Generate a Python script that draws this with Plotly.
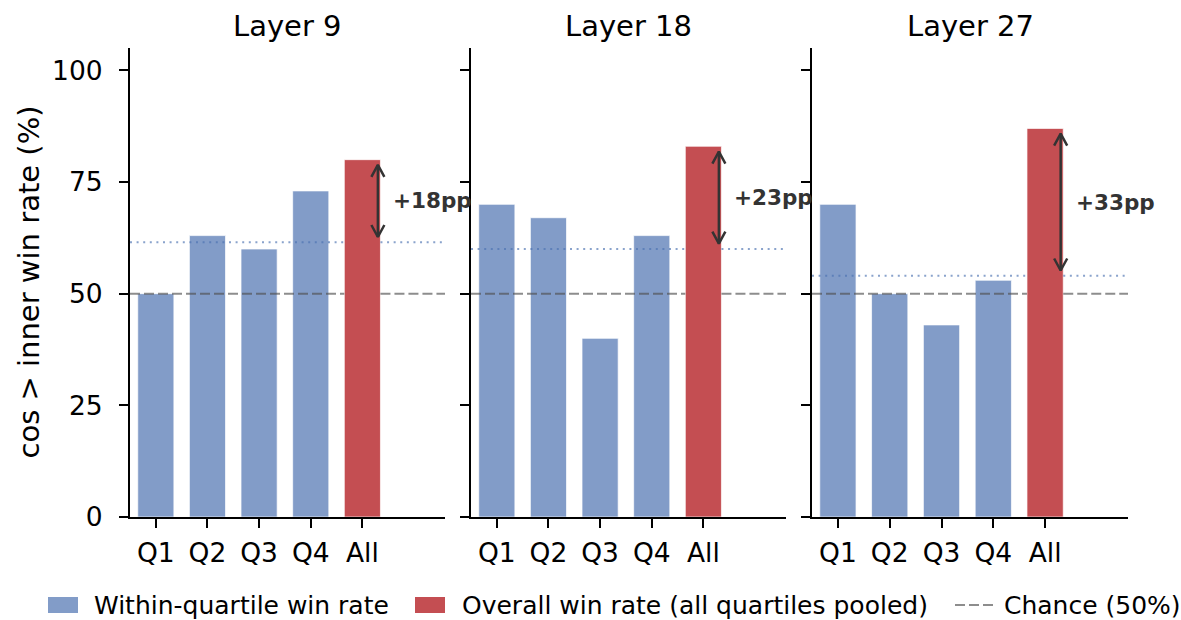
import plotly.graph_objects as go
from plotly.subplots import make_subplots

# ---- data -------------------------------------------------------------
layers = ["Layer 9", "Layer 18", "Layer 27"]
categories = ["Q1", "Q2", "Q3", "Q4", "All"]
within_l9 = [50, 63, 60, 73]
within_l18 = [70, 67, 40, 63]
within_l27 = [70, 50, 43, 53]
overall = [80, 83, 87]
chance = 50
y_ticks = [0, 25, 50, 75, 100]

within_all = [within_l9, within_l18, within_l27]

# ---- style -------------------------------------------------------------
FONT = "DejaVu Sans"
BLUE = "#829cc8"
RED = "#C44E52"
MEAN_LINE = "rgba(76,114,176,0.65)"
CHANCE_LINE = "rgba(80,80,80,0.65)"
ARROW = "#333333"
BAR_W = 0.7
X_RANGE = [-0.5, 5.6]
Y_RANGE = [0, 105]

W, H = 1181, 620
ML, MR, MT, MB = 130, 53, 48, 103
PW, PH = W - ML - MR, H - MT - MB
PX_X = PW * (315 / 998) / (X_RANGE[1] - X_RANGE[0])  # px per x unit
PX_Y = PH / (Y_RANGE[1] - Y_RANGE[0])                 # px per y unit

fig = make_subplots(rows=1, cols=3)

domains = [[0, 315 / 998], [341 / 998, 656 / 998], [682 / 998, 1.0]]

annotations = []
all_x = len(categories) - 1
gap_lo, gap_hi = all_x - BAR_W / 2, all_x + BAR_W / 2

for i, (name, within, tot) in enumerate(zip(layers, within_all, overall)):
    col = i + 1
    mean_rate = sum(within) / len(within)
    # within-quartile bars
    fig.add_trace(go.Bar(x=list(range(len(within))), y=within, width=BAR_W,
                         marker=dict(color=BLUE, line=dict(color="rgba(255,255,255,0.7)", width=1)),
                         showlegend=False, hoverinfo="skip"), row=1, col=col)
    # pooled bar
    fig.add_trace(go.Bar(x=[all_x], y=[tot], width=BAR_W,
                         marker=dict(color=RED, line=dict(color="rgba(255,255,255,0.7)", width=1)),
                         showlegend=False, hoverinfo="skip"), row=1, col=col)
    # reference lines, interrupted behind the pooled bar
    for val, color, dash in [(chance, CHANCE_LINE, "10px,4px"), (mean_rate, MEAN_LINE, "2px,4.6px")]:
        fig.add_trace(go.Scatter(x=[X_RANGE[0], gap_lo, None, gap_hi, X_RANGE[1]],
                                 y=[val, val, None, val, val], mode="lines",
                                 line=dict(color=color, width=2, dash=dash),
                                 showlegend=False, hoverinfo="skip"), row=1, col=col)
    # double-headed arrow from mean to pooled rate
    ax = all_x + 0.3
    shrink = 5.3 / PX_Y
    lo, hi = mean_rate + shrink, tot - shrink
    dx, dy = 6.5 / PX_X, 12 / PX_Y
    fig.add_trace(go.Scatter(
        x=[ax, ax, None, ax - dx, ax, ax + dx, None, ax - dx, ax, ax + dx],
        y=[lo, hi, None, hi - dy, hi, hi - dy, None, lo + dy, lo, lo + dy],
        mode="lines", line=dict(color=ARROW, width=2.5),
        showlegend=False, hoverinfo="skip"), row=1, col=col)
    delta = tot - mean_rate
    annotations.append(dict(x=all_x + 0.55, y=(mean_rate + tot) / 2,
                            xref=f"x{col if col > 1 else ''}", yref=f"y{col if col > 1 else ''}",
                            text=f"<b>{delta:+.0f}pp</b>", showarrow=False,
                            xanchor="left", yanchor="middle",
                            font=dict(family=FONT, size=21.5, color=ARROW)))
    # panel title
    d = domains[i]
    annotations.append(dict(x=(d[0] + d[1]) / 2, y=(H - MB - 26) / PH, xref="paper", yref="paper",
                            text=name, showarrow=False, xanchor="center", yanchor="middle",
                            font=dict(family=FONT, size=29, color="black")))

    xa = dict(domain=d, range=X_RANGE, tickvals=list(range(len(categories))), ticktext=categories,
              showline=True, linecolor="black", linewidth=2, ticks="outside", ticklen=9,
              tickwidth=2, tickcolor="black", showgrid=False, zeroline=False,
              tickfont=dict(family=FONT, size=26.5, color="black"), ticklabelstandoff=2)
    ya = dict(range=Y_RANGE, tickvals=y_ticks, showline=True, linecolor="black", linewidth=2,
              ticks="outside", ticklen=9, tickwidth=2, tickcolor="black", showgrid=False,
              zeroline=False, showticklabels=(i == 0),
              tickfont=dict(family=FONT, size=26.5, color="black"), ticklabelstandoff=11)
    fig.update_xaxes(xa, row=1, col=col)
    fig.update_yaxes(ya, row=1, col=col)

# y-axis title
annotations.append(dict(x=(28 - ML) / PW, y=0.5, xref="paper", yref="paper",
                        text="cos > inner win rate (%)", textangle=-90, showarrow=False,
                        xanchor="center", yanchor="middle",
                        font=dict(family=FONT, size=29, color="black")))

# legend drawn along the bottom
def px_x(p):
    return (p - ML) / PW

def px_y(p):
    return (H - MB - p) / PH

shapes = []
legend_y = 605
legend_items = [
    ("rect", BLUE, 48, 78, 92, "Within-quartile win rate"),
    ("rect", RED, 415, 445, 460, "Overall win rate (all quartiles pooled)"),
    ("line", CHANCE_LINE, 955, 993, 1002, "Chance (50%)"),
]
for kind, color, x0, x1, tx, label in legend_items:
    if kind == "rect":
        shapes.append(dict(type="rect", xref="paper", yref="paper",
                           x0=px_x(x0), x1=px_x(x1), y0=px_y(legend_y - 8), y1=px_y(legend_y + 8),
                           fillcolor=color, line=dict(width=0)))
    else:
        shapes.append(dict(type="line", xref="paper", yref="paper",
                           x0=px_x(x0), x1=px_x(x1), y0=px_y(legend_y), y1=px_y(legend_y),
                           line=dict(color=color, width=2, dash="10px,4px")))
    annotations.append(dict(x=px_x(tx), y=px_y(legend_y), xref="paper", yref="paper",
                            text=label, showarrow=False, xanchor="left", yanchor="middle",
                            font=dict(family=FONT, size=25, color="black")))

fig.update_layout(
    width=W, height=H, margin=dict(l=ML, r=MR, t=MT, b=MB),
    barmode="overlay", plot_bgcolor="white", paper_bgcolor="white",
    showlegend=False, annotations=annotations, shapes=shapes,
    font=dict(family=FONT, color="black"),
)

fig.write_html("out.html")
